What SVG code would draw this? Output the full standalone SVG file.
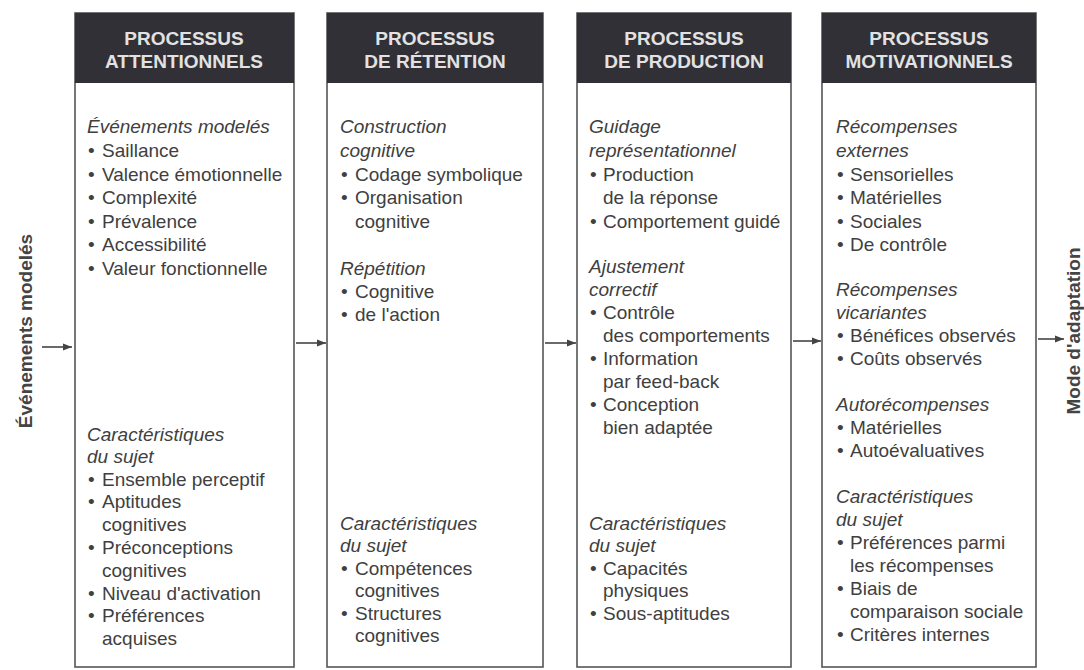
<svg xmlns="http://www.w3.org/2000/svg" width="1084" height="670" viewBox="0 0 1084 670">
<style>
.box{fill:#fff;stroke:#555;stroke-width:1.6}
.hdr{fill:#303036}
.ht{font-family:"Liberation Sans",Arial,sans-serif;font-weight:bold;font-size:19px;fill:#e2e2e2;text-anchor:middle}
.t{font-family:"Liberation Sans",Arial,sans-serif;font-size:19px;fill:#404040}
.i{font-style:italic}
.side{font-family:"Liberation Sans",Arial,sans-serif;font-weight:bold;font-size:19px;fill:#444;text-anchor:middle}
.arr{stroke:#444;stroke-width:1.6;fill:none}
</style>
<defs>
<marker id="ah" viewBox="0 0 10 10" refX="10" refY="5" markerWidth="10" markerHeight="9" markerUnits="userSpaceOnUse" orient="auto">
<path d="M0,1 L10,5 L0,9 Z" fill="#444"/>
</marker>
</defs>
<rect width="1084" height="670" fill="#fff"/>

<g id="label-left">
<text class="side" transform="translate(32,331) rotate(-90)">Événements modelés</text>
</g>
<g id="label-right">
<text class="side" transform="translate(1080,331) rotate(-90)">Mode d'adaptation</text>
</g>

<g id="box1">
<rect class="box" x="75" y="13" width="219" height="654"/>
<rect class="hdr" x="75" y="13" width="219" height="70"/>
<text class="ht"><tspan x="184" y="45">PROCESSUS</tspan><tspan x="184" y="68">ATTENTIONNELS</tspan></text>
<text class="t">
<tspan class="i" x="87" y="133">Événements modelés</tspan>
<tspan x="88" y="157">•</tspan><tspan x="102" y="157">Saillance</tspan>
<tspan x="88" y="181">•</tspan><tspan x="102" y="181">Valence émotionnelle</tspan>
<tspan x="88" y="204">•</tspan><tspan x="102" y="204">Complexité</tspan>
<tspan x="88" y="228">•</tspan><tspan x="102" y="228">Prévalence</tspan>
<tspan x="88" y="251">•</tspan><tspan x="102" y="251">Accessibilité</tspan>
<tspan x="88" y="275">•</tspan><tspan x="102" y="275">Valeur fonctionnelle</tspan>
<tspan class="i" x="87" y="441">Caractéristiques</tspan>
<tspan class="i" x="87" y="463">du sujet</tspan>
<tspan x="88" y="486">•</tspan><tspan x="102" y="486">Ensemble perceptif</tspan>
<tspan x="88" y="508">•</tspan><tspan x="102" y="508">Aptitudes</tspan>
<tspan x="102" y="531">cognitives</tspan>
<tspan x="88" y="554">•</tspan><tspan x="102" y="554">Préconceptions</tspan>
<tspan x="102" y="577">cognitives</tspan>
<tspan x="88" y="600">•</tspan><tspan x="102" y="600">Niveau d'activation</tspan>
<tspan x="88" y="622">•</tspan><tspan x="102" y="622">Préférences</tspan>
<tspan x="102" y="645">acquises</tspan>
</text>
</g>

<g id="box2">
<rect class="box" x="327" y="13" width="216" height="654"/>
<rect class="hdr" x="327" y="13" width="216" height="70"/>
<text class="ht"><tspan x="435" y="45">PROCESSUS</tspan><tspan x="435" y="68">DE RÉTENTION</tspan></text>
<text class="t">
<tspan class="i" x="340" y="133">Construction</tspan>
<tspan class="i" x="340" y="157">cognitive</tspan>
<tspan x="341" y="181">•</tspan><tspan x="355" y="181">Codage symbolique</tspan>
<tspan x="341" y="204">•</tspan><tspan x="355" y="204">Organisation</tspan>
<tspan x="355" y="228">cognitive</tspan>
<tspan class="i" x="340" y="275">Répétition</tspan>
<tspan x="341" y="298">•</tspan><tspan x="355" y="298">Cognitive</tspan>
<tspan x="341" y="321">•</tspan><tspan x="355" y="321">de l'action</tspan>
<tspan class="i" x="340" y="530">Caractéristiques</tspan>
<tspan class="i" x="340" y="552">du sujet</tspan>
<tspan x="341" y="575">•</tspan><tspan x="355" y="575">Compétences</tspan>
<tspan x="355" y="597">cognitives</tspan>
<tspan x="341" y="620">•</tspan><tspan x="355" y="620">Structures</tspan>
<tspan x="355" y="642">cognitives</tspan>
</text>
</g>

<g id="box3">
<rect class="box" x="577" y="13" width="214" height="654"/>
<rect class="hdr" x="577" y="13" width="214" height="70"/>
<text class="ht"><tspan x="684" y="45">PROCESSUS</tspan><tspan x="684" y="68">DE PRODUCTION</tspan></text>
<text class="t">
<tspan class="i" x="589" y="133">Guidage</tspan>
<tspan class="i" x="589" y="157">représentationnel</tspan>
<tspan x="590" y="181">•</tspan><tspan x="603" y="181">Production</tspan>
<tspan x="603" y="204">de la réponse</tspan>
<tspan x="590" y="228">•</tspan><tspan x="603" y="228">Comportement guidé</tspan>
<tspan class="i" x="589" y="273">Ajustement</tspan>
<tspan class="i" x="589" y="296">correctif</tspan>
<tspan x="590" y="319">•</tspan><tspan x="603" y="319">Contrôle</tspan>
<tspan x="603" y="342">des comportements</tspan>
<tspan x="590" y="365">•</tspan><tspan x="603" y="365">Information</tspan>
<tspan x="603" y="388">par feed-back</tspan>
<tspan x="590" y="411">•</tspan><tspan x="603" y="411">Conception</tspan>
<tspan x="603" y="434">bien adaptée</tspan>
<tspan class="i" x="589" y="530">Caractéristiques</tspan>
<tspan class="i" x="589" y="552">du sujet</tspan>
<tspan x="590" y="575">•</tspan><tspan x="603" y="575">Capacités</tspan>
<tspan x="603" y="597">physiques</tspan>
<tspan x="590" y="620">•</tspan><tspan x="603" y="620">Sous-aptitudes</tspan>
</text>
</g>

<g id="box4">
<rect class="box" x="822" y="13" width="214" height="654"/>
<rect class="hdr" x="822" y="13" width="214" height="70"/>
<text class="ht"><tspan x="929" y="45">PROCESSUS</tspan><tspan x="929" y="68">MOTIVATIONNELS</tspan></text>
<text class="t">
<tspan class="i" x="836" y="133">Récompenses</tspan>
<tspan class="i" x="836" y="157">externes</tspan>
<tspan x="837" y="181">•</tspan><tspan x="850" y="181">Sensorielles</tspan>
<tspan x="837" y="204">•</tspan><tspan x="850" y="204">Matérielles</tspan>
<tspan x="837" y="228">•</tspan><tspan x="850" y="228">Sociales</tspan>
<tspan x="837" y="251">•</tspan><tspan x="850" y="251">De contrôle</tspan>
<tspan class="i" x="836" y="296">Récompenses</tspan>
<tspan class="i" x="836" y="319">vicariantes</tspan>
<tspan x="837" y="342">•</tspan><tspan x="850" y="342">Bénéfices observés</tspan>
<tspan x="837" y="365">•</tspan><tspan x="850" y="365">Coûts observés</tspan>
<tspan class="i" x="836" y="411">Autorécompenses</tspan>
<tspan x="837" y="434">•</tspan><tspan x="850" y="434">Matérielles</tspan>
<tspan x="837" y="457">•</tspan><tspan x="850" y="457">Autoévaluatives</tspan>
<tspan class="i" x="836" y="503">Caractéristiques</tspan>
<tspan class="i" x="836" y="526">du sujet</tspan>
<tspan x="837" y="549">•</tspan><tspan x="850" y="549">Préférences parmi</tspan>
<tspan x="850" y="572">les récompenses</tspan>
<tspan x="837" y="595">•</tspan><tspan x="850" y="595">Biais de</tspan>
<tspan x="850" y="618">comparaison sociale</tspan>
<tspan x="837" y="641">•</tspan><tspan x="850" y="641">Critères internes</tspan>
</text>
</g>

<g id="connectors">
<line class="arr" x1="42" y1="347" x2="72" y2="347" marker-end="url(#ah)"/>
<line class="arr" x1="296" y1="343" x2="326" y2="343" marker-end="url(#ah)"/>
<line class="arr" x1="545" y1="343" x2="576" y2="343" marker-end="url(#ah)"/>
<line class="arr" x1="793" y1="341" x2="821" y2="341" marker-end="url(#ah)"/>
<line class="arr" x1="1038" y1="339" x2="1064" y2="339" marker-end="url(#ah)"/>
</g>
</svg>
